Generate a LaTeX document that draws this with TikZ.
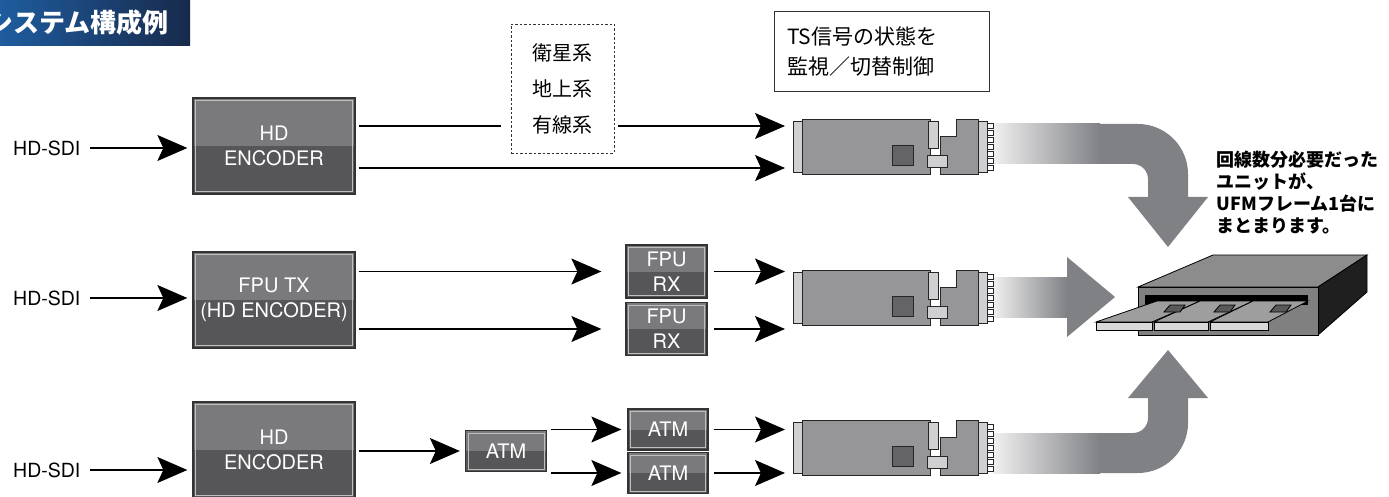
\documentclass[tikz,border=0pt]{standalone}
\usepackage{fontspec}
\setmainfont{TeX Gyre Heros}
\newfontfamily\jpfont{Noto Sans CJK JP}
\usetikzlibrary{arrows.meta,positioning,calc}

\definecolor{boxtop}{RGB}{122,122,125}
\definecolor{boxbot}{RGB}{86,86,89}
\definecolor{cardgray}{RGB}{150,150,153}
\definecolor{cardlight}{RGB}{208,208,210}
\definecolor{cardchip}{RGB}{100,100,103}
\definecolor{flowgray}{RGB}{128,129,133}
\definecolor{flowlight}{RGB}{240,240,240}
\definecolor{bannerl}{RGB}{30,92,158}
\definecolor{bannerr}{RGB}{24,42,76}

\begin{document}
\begin{tikzpicture}[x=1pt,y=-1pt,>={Stealth[length=30pt,width=26pt,inset=6pt]},line width=1.2pt]
  \tikzstyle{twotone}=[draw=black!80,line width=1.3pt,fill=boxtop,inner sep=0pt,text=white,align=center,
    path picture={\fill[boxbot] (path picture bounding box.west) rectangle (path picture bounding box.south east);
      \draw[white!75!black,line width=0.8pt] ([shift={(2.5pt,2.5pt)}]path picture bounding box.south west) rectangle ([shift={(-2.5pt,-2.5pt)}]path picture bounding box.north east);}]
  \tikzstyle{enc}=[twotone,minimum width=162pt,minimum height=96pt,font=\fontsize{20}{25}\selectfont]
  \tikzstyle{rxbox}=[twotone,minimum width=81pt,minimum height=53pt,font=\fontsize{20}{25}\selectfont]
  \tikzstyle{atmbox}=[twotone,minimum width=81pt,minimum height=41pt,font=\fontsize{20}{24}\selectfont]
  \tikzstyle{sdi}=[anchor=east,inner sep=0pt,font=\fontsize{19.5}{23}\selectfont]
  \tikzset{tscard/.pic={
    \begin{scope}[line width=0.9pt,draw=black!85]
    \filldraw[fill=cardgray] (9,-27.5) rectangle (137,27.5);
    \filldraw[fill=cardlight] (0,-25.5) rectangle (9,25.5);
    \filldraw[fill=cardlight] (135,-25.5) rectangle (145,1.5);
    \filldraw[fill=cardgray] (147,27.5) -- (147,-10.5) -- (163,-10.5) -- (163,-27.5) -- (185,-27.5) -- (185,27.5) -- cycle;
    \filldraw[fill=cardlight] (185,-25.5) rectangle (194,25.5);
    \foreach \p in {-21,-14,...,21} \filldraw[fill=white,line width=0.6pt] (194,\p-2.5) rectangle (200,\p+2.5);
    \filldraw[fill=cardchip] (99,-1.5) rectangle (120,18.5);
    \filldraw[fill=cardlight] (134,8.5) rectangle (154,20.5);
    \end{scope}
    \coordinate (-in) at (-8,0);
  }}

  \useasboundingbox (0,0) rectangle (1389,497);
  \shade[left color=bannerl,right color=bannerr] (0,0) rectangle (190,46);
  \begin{scope}
    \clip (0,0) rectangle (190,46);
    \node[anchor=east,inner sep=0pt,text=white,font=\jpfont\bfseries\fontsize{26}{28}\selectfont] (title) at (169,23) {システム構成例};
  \end{scope}

  \node[enc] (enc1) at (274,146) {HD\\ENCODER};
  \node[enc] (enc2) at (274,300) {FPU TX\\(HD ENCODER)};
  \node[enc] (enc3) at (274,450) {HD\\ENCODER};
  \node[sdi] (sdi1) at (81,148) {HD-SDI};
  \node[sdi] (sdi2) at (81,298) {HD-SDI};
  \node[sdi] (sdi3) at (81,470) {HD-SDI};
  \draw[->,shorten <=9pt,shorten >=5pt] (sdi1.east) -- (sdi1.east -| enc1.west);
  \draw[->,shorten <=9pt,shorten >=5pt] (sdi2.east) -- (sdi2.east -| enc2.west);
  \draw[->,shorten <=9pt,shorten >=5pt] (sdi3.east) -- (sdi3.east -| enc3.west);

  \node[draw=black!80,line width=0.8pt,dash pattern=on 2.5pt off 2pt,minimum width=103pt,minimum height=129pt,align=center,font=\jpfont\fontsize{20}{36}\selectfont] (sat) at (562.5,88.5) {衛星系\\地上系\\有線系};
  \node[draw=black!80,line width=1pt,minimum width=215pt,minimum height=80pt,inner xsep=13pt,text width=189pt,align=left,font=\jpfont\fontsize{21}{30}\selectfont] (ts) at (881.5,52) {TS信号の状態を\\監視／切替制御};

  \node[rxbox] (rx1) at (666.5,271.5) {FPU\\RX};
  \node[rxbox] (rx2) at (666.5,329) {FPU\\RX};
  \node[atmbox] (atm) at (506,451) {ATM};
  \node[atmbox,minimum width=80pt] (atm2) at (668,429.5) {ATM};
  \node[atmbox,minimum width=80pt] (atm3) at (668,473) {ATM};

  \fill[flowgray] (993,124) -- (1138,124) .. controls (1165.6,124) and (1188,146.4) .. (1188,174) -- (1188,197) -- (1208,197) -- (1168,247) -- (1128,197) -- (1148,197) -- (1148,179) .. controls (1148,170.7) and (1141.3,164) .. (1133,164) -- (993,164) -- cycle;
  \fill[flowgray] (993,277) -- (1067,277) -- (1067,257) -- (1115,297) -- (1067,337) -- (1067,317) -- (993,317) -- cycle;
  \fill[flowgray] (993,473) -- (1138,473) .. controls (1165.6,473) and (1188,450.4) .. (1188,423) -- (1188,398) -- (1208,398) -- (1168,350) -- (1128,398) -- (1148,398) -- (1148,418) .. controls (1148,426.3) and (1141.3,433) .. (1133,433) -- (993,433) -- cycle;
  \shade[left color=flowlight,right color=flowgray] (993,124) rectangle (1100,164);
  \shade[left color=flowlight,right color=flowgray] (993,277) rectangle (1067,317);
  \shade[left color=flowlight,right color=flowgray] (993,433) rectangle (1100,473);

  \pic (card1) at (793,147) {tscard};
  \pic (card2) at (793,298) {tscard};
  \pic (card3) at (793,448) {tscard};

  \coordinate (e1a) at ([yshift=20pt]enc1.east);
  \coordinate (e1b) at ([yshift=-22pt]enc1.east);
  \draw[shorten <=3pt,shorten >=10pt] (e1a) -- (e1a -| sat.west);
  \draw[->,shorten <=4pt] (e1a -| sat.east) -- (e1a -| card1-in);
  \draw[->,shorten <=3pt] (e1b) -- (e1b -| card1-in);

  \draw[->,shorten <=3pt,shorten >=24pt] (enc2.east |- rx1) -- (rx1.west);
  \draw[->,shorten <=3pt,shorten >=24pt] (enc2.east |- rx2) -- (rx2.west);
  \draw[->,shorten <=6pt] (rx1.east) -- (rx1.east -| card2-in);
  \draw[->,shorten <=6pt] (rx2.east) -- (rx2.east -| card2-in);

  \draw[->,shorten <=3pt,shorten >=5pt] (enc3.east |- atm) -- (atm.west);
  \draw[->,shorten <=4pt,shorten >=6pt] (atm.east |- atm2) -- (atm2.west);
  \draw[->,shorten <=4pt,shorten >=6pt] (atm.east |- atm3) -- (atm3.west);
  \draw[->,shorten <=5pt] (atm2.east) -- (atm2.east -| card3-in);
  \draw[->,shorten <=5pt] (atm3.east) -- (atm3.east -| card3-in);

  \begin{scope}[line width=0.8pt,draw=black]
    \filldraw[fill=black!45] (1138,287) -- (1213,255) -- (1367,255) -- (1318,287) -- cycle;
    \filldraw[fill=black!88] (1318,287) -- (1367,255) -- (1367,292) -- (1318,335) -- cycle;
    \filldraw[fill=black!50] (1138,287) rectangle (1318,335);
    \fill[black] (1145,295) rectangle (1308,305);
    \filldraw[fill=black!38] (1157,301) -- (1200,301) -- (1152,322) -- (1096,322) -- cycle;
    \filldraw[fill=black!38] (1200,301) -- (1253,301) -- (1208,322) -- (1154,322) -- cycle;
    \filldraw[fill=black!38] (1253,301) -- (1308,301) -- (1268,322) -- (1210,322) -- cycle;
    \filldraw[fill=black!65] (1170,305) -- (1185,305) -- (1180,312) -- (1164,312) -- cycle;
    \filldraw[fill=black!65] (1220,305) -- (1235,305) -- (1230,312) -- (1214,312) -- cycle;
    \filldraw[fill=black!65] (1276,305) -- (1291,305) -- (1286,312) -- (1270,312) -- cycle;
    \filldraw[fill=black!15] (1096,322) rectangle (1152,330);
    \filldraw[fill=black!15] (1154,322) rectangle (1208,330);
    \filldraw[fill=black!15] (1210,322) rectangle (1268,330);
  \end{scope}
  \node[anchor=north west,inner sep=0pt,align=left,font=\jpfont\bfseries\fontsize{18}{22}\selectfont] (note) at (1216,150) {回線数分必要だった\\ユニットが、\\UFMフレーム1台に\\まとまります。};
\end{tikzpicture}
\end{document}
